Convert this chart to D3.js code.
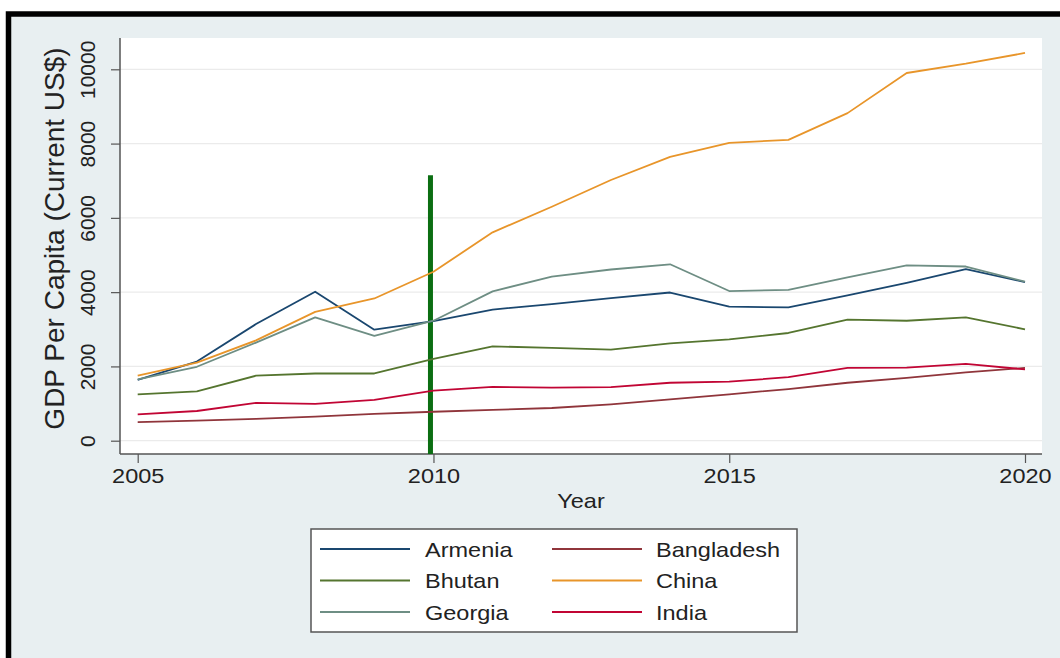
<!DOCTYPE html>
<html><head><meta charset="utf-8">
<script src="https://cdn.jsdelivr.net/npm/d3@7"></script>
<style>
html,body{margin:0;padding:0;background:#fff;}
svg{display:block;}
text{font-family:"Liberation Sans",Arial,sans-serif;fill:#222;}
</style></head>
<body>
<svg id="chart" width="1060" height="658"></svg>
<script>
const years = [2005,2006,2007,2008,2009,2010,2011,2012,2013,2014,2015,2016,2017,2018,2019,2020];
const armenia    = [1640,2130,3140,4010,2990,3220,3530,3680,3840,3990,3610,3590,3910,4250,4620,4270];
const bangladesh = [500,540,590,650,720,780,830,880,980,1110,1250,1390,1560,1690,1840,1960];
const bhutan     = [1250,1330,1750,1810,1810,2200,2540,2500,2450,2620,2730,2900,3260,3230,3320,3000];
const china      = [1750,2100,2700,3470,3830,4550,5610,6300,7020,7640,8020,8100,8820,9900,10150,10440];
const georgia    = [1650,1990,2640,3320,2820,3230,4020,4420,4610,4750,4030,4060,4400,4720,4690,4280];
const india      = [710,800,1020,990,1100,1350,1450,1430,1440,1560,1590,1710,1960,1970,2070,1920];
const yTicks = [0,2000,4000,6000,8000,10000];
const xTicks = [2005,2010,2015,2020];
const markerYear = 2010;
const markerTop = 7150;
const seriesNames = ["Armenia","Bangladesh","Bhutan","China","Georgia","India"];
const seriesValues = [armenia,bangladesh,bhutan,china,georgia,india];
const seriesColors = ["#1a476f","#90353b","#55752f","#e8952a","#6e8e84","#c10534"];

const svg = d3.select("#chart");
const W = 1060, H = 658;
const sx = 1.12; // horizontal stretch of the reference

// background + border
svg.append("rect").attr("width",W).attr("height",H).attr("fill","#fff");
svg.append("rect").attr("x",8.5).attr("y",14.5).attr("width",W).attr("height",H).attr("fill","#e8eff1");
svg.append("path").attr("d",`M8.5,${H} L8.5,14 L${W},14`).attr("fill","none").attr("stroke","#000").attr("stroke-width",5.5);

const plot = {l:120, r:1042, t:38, b:454};
svg.append("rect").attr("x",plot.l).attr("y",plot.t).attr("width",plot.r-plot.l).attr("height",plot.b-plot.t).attr("fill","#fff");

const x = d3.scaleLinear().domain([2005,2020]).range([137.7,1025]);
const y = d3.scaleLinear().domain([0,10000]).range([440.7,69.3]);

// grid
svg.append("g").selectAll("line").data(yTicks).join("line")
  .attr("x1",plot.l).attr("x2",plot.r).attr("y1",d=>y(d)).attr("y2",d=>y(d))
  .attr("stroke","#ebebeb").attr("stroke-width",1.2);

// axes
const yAxis = svg.append("g").attr("transform",`translate(${plot.l},0)`)
  .call(d3.axisLeft(y).tickValues(yTicks).tickSize(9).tickFormat(d3.format("d")));
yAxis.select(".domain").attr("d",`M0,${plot.t}V${plot.b}`).attr("stroke","#555").attr("stroke-width",1.5);
yAxis.selectAll(".tick line").attr("stroke","#555").attr("stroke-width",1.2);
yAxis.selectAll(".tick text").attr("font-size",21).attr("fill","#222")
  .attr("text-anchor","middle").attr("x",0).attr("dy",0)
  .attr("transform","translate(-25,0) rotate(-90)").attr("y",0).attr("dominant-baseline","auto");

const xAxis = svg.append("g").attr("transform",`translate(0,${plot.b})`)
  .call(d3.axisBottom(x).tickValues(xTicks).tickSize(9).tickFormat(d3.format("d")));
xAxis.select(".domain").attr("d",`M${plot.l},0H${plot.r}`).attr("stroke","#555").attr("stroke-width",1.5);
xAxis.selectAll(".tick line").attr("stroke","#555").attr("stroke-width",1.2);
xAxis.selectAll(".tick text").attr("font-size",21).attr("fill","#222")
  .attr("y",0).attr("dy",0).attr("transform",`translate(0,29) scale(${sx},1)`);

// vertical marker line
svg.append("line").attr("x1",x(markerYear)-3).attr("x2",x(markerYear)-3)
  .attr("y1",y(markerTop)).attr("y2",plot.b).attr("stroke","#0b6e12").attr("stroke-width",5);

// series
const line = d3.line().x((d,i)=>x(years[i])).y(d=>y(d));
svg.append("g").selectAll("path").data(seriesValues).join("path")
  .attr("d",d=>line(d)).attr("fill","none")
  .attr("stroke",(d,i)=>seriesColors[i]).attr("stroke-width",1.8).attr("stroke-linejoin","round");

// axis titles
svg.append("text").attr("transform",`translate(64,${(47+430)/2}) rotate(-90)`)
  .attr("text-anchor","middle").attr("font-size",28).text("GDP Per Capita (Current US$)");
svg.append("text").attr("transform",`translate(${(plot.l+plot.r)/2},508) scale(${sx},1)`)
  .attr("text-anchor","middle").attr("font-size",21).text("Year");

// legend
const lg = svg.append("g");
lg.append("rect").attr("x",311).attr("y",529).attr("width",486).attr("height",103)
  .attr("fill","#fff").attr("stroke","#555").attr("stroke-width",1.5);
const cols = [{lx:320, tx:425},{lx:552, tx:656}];
const rows = [549,580.5,612];
seriesNames.forEach((name,i)=>{
  const c = cols[i%2], r = rows[Math.floor(i/2)];
  lg.append("line").attr("x1",c.lx).attr("x2",c.lx+90).attr("y1",r).attr("y2",r)
    .attr("stroke",seriesColors[i]).attr("stroke-width",1.8);
  lg.append("text").attr("transform",`translate(${c.tx},${r+7.5}) scale(${sx},1)`)
    .attr("font-size",21).text(name);
});
</script>
</body></html>
